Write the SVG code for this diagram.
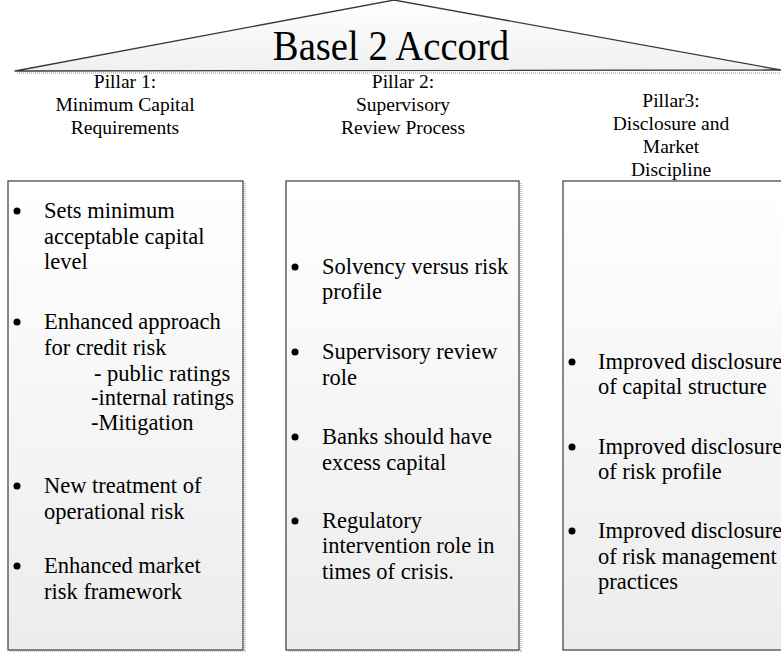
<svg xmlns="http://www.w3.org/2000/svg" width="781" height="652" viewBox="0 0 781 652">
  <defs>
    <linearGradient id="panelFill" x1="0" y1="0" x2="0" y2="1">
      <stop offset="0" stop-color="#ffffff"/>
      <stop offset="1" stop-color="#ececec"/>
    </linearGradient>
    <linearGradient id="roofFill" x1="0" y1="0" x2="0" y2="1">
      <stop offset="0" stop-color="#ffffff"/>
      <stop offset="1" stop-color="#f0f0f0"/>
    </linearGradient>
    <style>
      .panel { fill: url(#panelFill); stroke: #4a4a4a; stroke-width: 1.3; }
      .shadow { fill: none; stroke: #c8c8c8; stroke-width: 2; stroke-dasharray: 1 1; }
      .roof { fill: url(#roofFill); stroke: #3a3a3a; stroke-width: 1.3; stroke-linejoin: round; }
      .title { font-size: 43px; text-anchor: middle; }
      .head { font-size: 19.5px; text-anchor: middle; }
      .item { font-size: 22.5px; }
      .dot { fill: #000; }
    </style>
  </defs>

  <!-- roof -->
  <g id="roof" font-family="Liberation Serif, serif">
    <line x1="17" y1="73" x2="781" y2="73" class="shadow"/>
    <polygon class="roof" points="15,71 394,0 781,70"/>
    <text class="title" transform="translate(391,60) scale(0.9,1)">Basel 2 Accord</text>
  </g>

  <!-- pillar 1 -->
  <g id="pillar1" font-family="Liberation Serif, serif">
    <text class="head" x="125" y="88">Pillar 1:</text>
    <text class="head" x="125" y="111">Minimum Capital</text>
    <text class="head" x="125" y="134">Requirements</text>
    <path class="shadow" d="M245,183 V652 M10,651 H245"/>
    <rect class="panel" x="8" y="181" width="235" height="469"/>
    <circle class="dot" cx="17" cy="211" r="3.5"/>
    <text class="item" x="44" y="218">Sets minimum</text>
    <text class="item" x="44" y="244">acceptable capital</text>
    <text class="item" x="44" y="269">level</text>
    <circle class="dot" cx="17" cy="322" r="3.5"/>
    <text class="item" x="44" y="329">Enhanced approach</text>
    <text class="item" x="44" y="355">for credit risk</text>
    <text class="item" x="94" y="381">- public ratings</text>
    <text class="item" x="91" y="405">-internal ratings</text>
    <text class="item" x="91" y="430">-Mitigation</text>
    <circle class="dot" cx="17" cy="486" r="3.5"/>
    <text class="item" x="44" y="493">New treatment of</text>
    <text class="item" x="44" y="519">operational risk</text>
    <circle class="dot" cx="17" cy="566" r="3.5"/>
    <text class="item" x="44" y="573">Enhanced market</text>
    <text class="item" x="44" y="599">risk framework</text>
  </g>

  <!-- pillar 2 -->
  <g id="pillar2" font-family="Liberation Serif, serif">
    <text class="head" x="403" y="88">Pillar 2:</text>
    <text class="head" x="403" y="111">Supervisory</text>
    <text class="head" x="403" y="134">Review Process</text>
    <path class="shadow" d="M521,183 V652 M288,651 H521"/>
    <rect class="panel" x="286" y="181" width="233" height="469"/>
    <circle class="dot" cx="295" cy="267" r="3.5"/>
    <text class="item" x="322" y="274">Solvency versus risk</text>
    <text class="item" x="322" y="299">profile</text>
    <circle class="dot" cx="295" cy="352" r="3.5"/>
    <text class="item" x="322" y="359">Supervisory review</text>
    <text class="item" x="322" y="385">role</text>
    <circle class="dot" cx="295" cy="437" r="3.5"/>
    <text class="item" x="322" y="444">Banks should have</text>
    <text class="item" x="322" y="470">excess capital</text>
    <circle class="dot" cx="295" cy="521" r="3.5"/>
    <text class="item" x="322" y="528">Regulatory</text>
    <text class="item" x="322" y="553">intervention role in</text>
    <text class="item" x="322" y="579">times of crisis.</text>
  </g>

  <!-- pillar 3 -->
  <g id="pillar3" font-family="Liberation Serif, serif">
    <text class="head" x="671" y="107">Pillar3:</text>
    <text class="head" x="671" y="130">Disclosure and</text>
    <text class="head" x="671" y="153">Market</text>
    <text class="head" x="671" y="176">Discipline</text>
    <rect class="panel" x="563" y="181" width="240" height="469"/>
    <circle class="dot" cx="572" cy="362" r="3.5"/>
    <text class="item" x="598" y="369">Improved disclosure</text>
    <text class="item" x="598" y="394">of capital structure</text>
    <circle class="dot" cx="572" cy="447" r="3.5"/>
    <text class="item" x="598" y="454">Improved disclosure</text>
    <text class="item" x="598" y="479">of risk profile</text>
    <circle class="dot" cx="572" cy="531" r="3.5"/>
    <text class="item" x="598" y="538">Improved disclosure</text>
    <text class="item" x="598" y="564">of risk management</text>
    <text class="item" x="598" y="589">practices</text>
  </g>

  <!-- no connectors in this figure -->
  <g id="connectors"/>
</svg>
